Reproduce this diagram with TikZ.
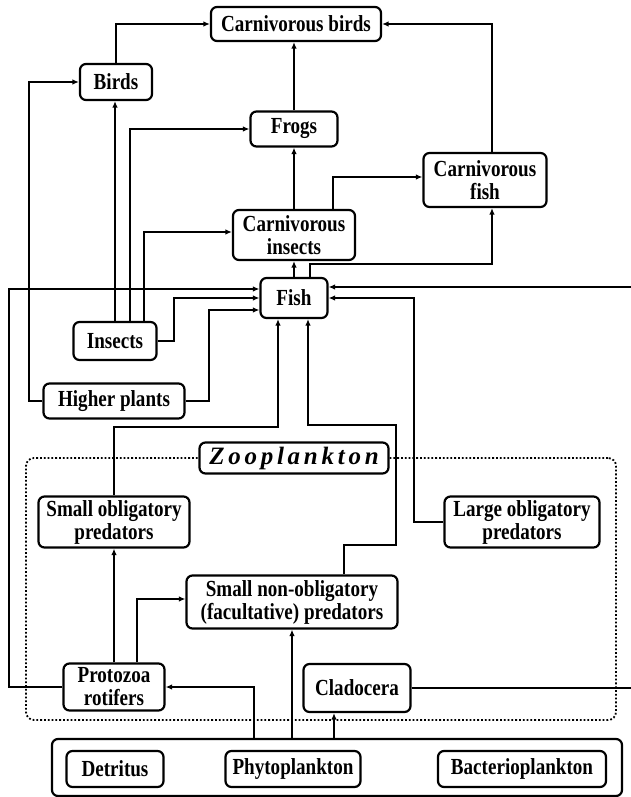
\documentclass[tikz,border=0pt]{standalone}
\usepackage{fontspec}
\setmainfont{Liberation Serif}[FakeStretch=0.83]
\newfontfamily\zoofont{Liberation Serif}[LetterSpace=15]
\usetikzlibrary{arrows.meta}

\tikzset{
    box/.style={draw, line width=2.2pt, rounded corners=6pt, fill=white, align=center,
        inner sep=1pt, font=\bfseries\fontsize{23}{23}\selectfont},
    link/.style={line width=2.1pt, -{Latex[length=6.5pt,width=5.5pt]}}
}

\begin{document}
\begin{tikzpicture}[x=1pt, y=-1pt]
    \useasboundingbox (0,0) rectangle (631,797);

    % Define the bend points of the links
    \coordinate (hpL) at (29,401);
    \coordinate (insR) at (174,298);
    \coordinate (hpR) at (209,310);
    \coordinate (protL) at (9,289);
    \coordinate (cladR) at (634,287);
    \coordinate (lopL) at (414,298);
    \coordinate (snA) at (344,545);
    \coordinate (snB) at (396,425);
    \coordinate (sopT) at (114,427);

    % Zooplankton frame and the base box
    \node (zoo) at (321,589) [draw, dotted, line width=1.8pt, rounded corners=8pt,
        minimum width=590pt, minimum height=262pt] {};
    \node (food) at (337,767.5) [box, minimum width=570pt, minimum height=57pt] {};

    % Draw the boxes
    \node (cbirds) at (296,24) [box, minimum width=170pt, minimum height=34pt] {Carnivorous birds};
    \node (birds) at (116,82) [box, minimum width=72pt, minimum height=36pt] {Birds};
    \node (frogs) at (294,129) [box, minimum width=87pt, minimum height=35pt] {Frogs};
    \node (cfish) at (485,180) [box, minimum width=123pt, minimum height=54pt] {Carnivorous\\fish};
    \node (cinsects) at (294,235) [box, minimum width=122pt, minimum height=50pt] {Carnivorous\\insects};
    \node (fish) at (294,298) [box, minimum width=67pt, minimum height=40pt] {Fish};
    \node (insects) at (115,341) [box, minimum width=83pt, minimum height=38pt] {Insects};
    \node (hplants) at (114,401) [box, minimum width=141pt, minimum height=35pt] {Higher plants};
    \node (label) at (294,458) [box, minimum width=189pt, minimum height=31pt,
        font=\zoofont\bfseries\itshape\fontsize{25}{25}\selectfont] {Zooplankton};
    \node (sop) at (114,522) [box, minimum width=151pt, minimum height=51pt] {Small obligatory\\predators};
    \node (lop) at (522,522) [box, minimum width=155pt, minimum height=51pt] {Large obligatory\\predators};
    \node (snop) at (292,602) [box, minimum width=211pt, minimum height=53pt] {Small non-obligatory\\(facultative) predators};
    \node (protozoa) at (114,687) [box, minimum width=101pt, minimum height=47pt] {Protozoa\\rotifers};
    \node (clado) at (357,688) [box, minimum width=107pt, minimum height=48pt] {Cladocera};
    \node (detritus) at (115,769) [box, minimum width=97pt, minimum height=36pt] {Detritus};
    \node (phyto) at (293,769) [box, minimum width=135pt, minimum height=36pt] {Phytoplankton};
    \node (bacterio) at (522,769) [box, minimum width=168pt, minimum height=36pt] {Bacterioplankton};

    % Links to the top of the web
    \draw [link] (birds.north) |- (cbirds.west);
    \draw [link] (frogs.north) -- (frogs.north |- cbirds.south);
    \draw [link] ([xshift=7pt]cfish.north) |- (cbirds.east);
    \draw [link] (cinsects.north) -- (cinsects.north |- frogs.south);
    \draw [link] ([xshift=39pt]cinsects.north) |- ([yshift=3pt]cfish.west);
    \draw [link] (fish.north) -- (fish.north |- cinsects.south);
    \draw [link] ([xshift=16pt]fish.north) -- ++(0,-13) -| ([xshift=7pt]cfish.south);
    \draw [link] (insects.north) -- (insects.north |- birds.south);
    \draw [link] ([xshift=15pt]insects.north) |- (frogs.west);
    \draw [link] ([xshift=29pt]insects.north) |- ([yshift=3pt]cinsects.west);
    \draw [link] (hplants.west) -- (hpL) |- (birds.west);

    % Links into the fish
    \draw [link] (insects.east) -| (insR) -- (fish.west);
    \draw [link] (hplants.east) -| (hpR) -- ([yshift=-12pt]fish.west);
    \draw [link] (protozoa.west) -| (protL) -- ([yshift=9pt]fish.west);
    \draw [link] (clado.east) -| (cladR) -- ([yshift=11pt]fish.east);
    \draw [link] (lop.west) -| (lopL) -- (fish.east);
    \draw [link] ([xshift=52pt]snop.north) -- (snA) -| (snB) -| ([xshift=14pt]fish.south);
    \draw [link] (sop.north) -- (sopT) -| ([xshift=-16pt]fish.south);

    % Links inside the zooplankton
    \draw [link] (protozoa.north) -- (protozoa.north |- sop.south);
    \draw [link] ([xshift=23pt]protozoa.north) |- ([yshift=3pt]snop.west);
    \draw [link] ([xshift=-83pt]food.north) |- (protozoa.east);
    \draw [link] (snop.south |- food.north) -- (snop.south);
    \draw [link] ([xshift=-3pt]food.north) -- ([xshift=-23pt]clado.south);

\end{tikzpicture}
\end{document}
